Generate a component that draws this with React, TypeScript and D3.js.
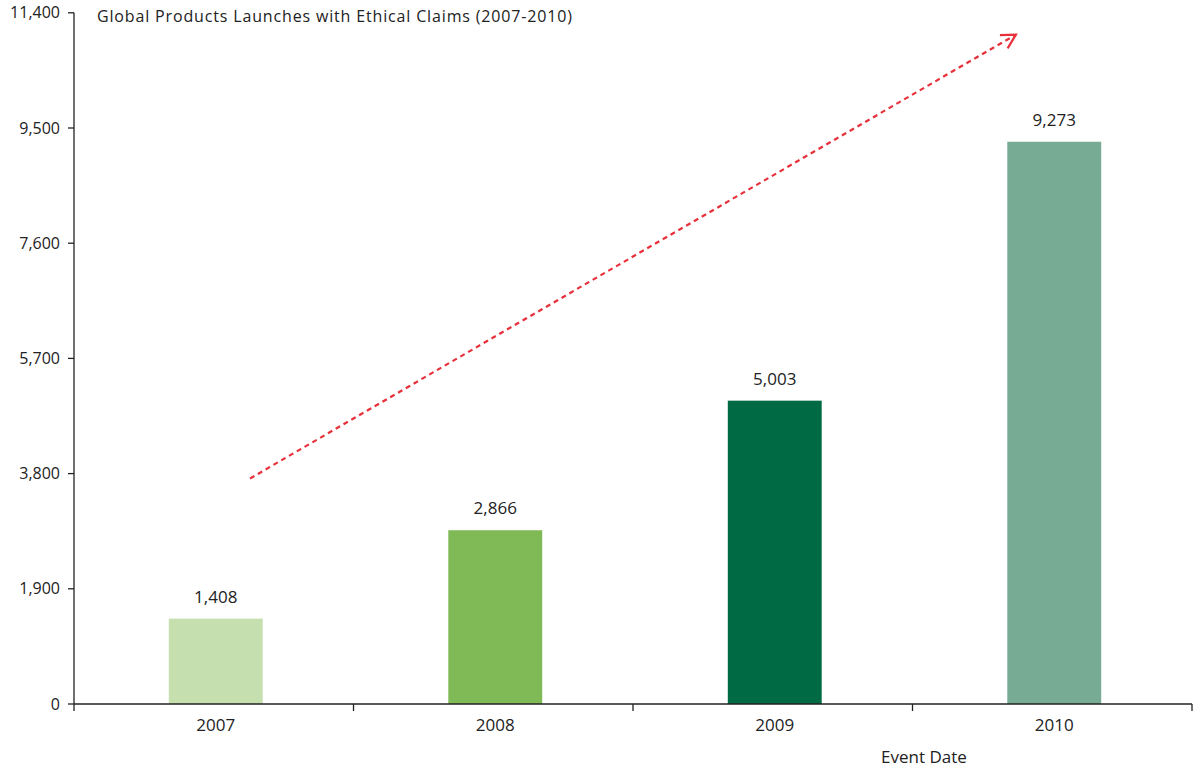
import React from "react";
import * as d3 from "d3";

const years = ["2007", "2008", "2009", "2010"];
const launches = [1408, 2866, 5003, 9273];
const barColors = ["#c5dfae", "#7fba56", "#006a45", "#77ab94"];
const yTicks = [0, 1900, 3800, 5700, 7600, 9500, 11400];
const title = "Global Products Launches with Ethical Claims (2007-2010)";
const xAxisTitle = "Event Date";
// trend arrow in data terms: [band position (0..4), value]
const arrowStart = [0.63, 3720];
const arrowEnd = [3.37, 11040];

const W = 1194, H = 767;
const left = 74, right = 1192, top = 12.8, bottom = 704;
const font = "'Open Sans', sans-serif";

export default function App() {
  const x = d3.scaleBand().domain(years).range([left + 2, right + 2]).paddingInner(0.664).paddingOuter(0.332);
  const xPos = d3.scaleLinear().domain([0, years.length]).range([left, right]);
  const y = d3.scaleLinear().domain([0, 11400]).range([bottom, top]);
  const fmt = d3.format(",");
  const bandW = (right - left) / years.length;
  const boundaries = d3.range(years.length + 1).map((i) => left + i * bandW);

  const x1 = xPos(arrowStart[0]), y1 = y(arrowStart[1]);
  const x2 = xPos(arrowEnd[0]), y2 = y(arrowEnd[1]);
  const ang = Math.atan2(y2 - y1, x2 - x1);
  const hl = 16;
  const a1 = ang + Math.PI - 0.5, a2 = ang + Math.PI + 0.5;

  return (
    <svg width={W} height={H} style={{ position: "absolute", left: 0, top: 0, background: "#fff" }} fontFamily={font}>
      <text x={97} y={22} fontSize={16} fill="#222" textLength={475} lengthAdjust="spacing">{title}</text>
      {/* y axis */}
      <line x1={left} x2={left} y1={top} y2={bottom} stroke="#222" strokeWidth={1.3} />
      {yTicks.map((t) => (
        <g key={t}>
          <line x1={left - 6} x2={left} y1={y(t)} y2={y(t)} stroke="#222" strokeWidth={1.3} />
          <text x={left - 14} y={y(t)} dy="0.35em" textAnchor="end" fontSize={16} fill="#222">{fmt(t)}</text>
        </g>
      ))}
      {/* bars */}
      {years.map((yr, i) => (
        <g key={yr}>
          <rect x={x(yr)} y={y(launches[i])} width={x.bandwidth()} height={bottom - y(launches[i])} fill={barColors[i]} />
          <text x={x(yr)! + x.bandwidth() / 2} y={y(launches[i]) - 16} textAnchor="middle" fontSize={17} fill="#222">{fmt(launches[i])}</text>
        </g>
      ))}
      {/* x axis */}
      <line x1={left} x2={right} y1={bottom} y2={bottom} stroke="#222" strokeWidth={1.3} />
      {boundaries.map((b, i) => (
        <line key={i} x1={b} x2={b} y1={bottom} y2={bottom + 7} stroke="#222" strokeWidth={1.3} />
      ))}
      {years.map((yr) => (
        <text key={yr} x={x(yr)! + x.bandwidth() / 2} y={731} textAnchor="middle" fontSize={17} fill="#222">{yr}</text>
      ))}
      <text x={924} y={763} textAnchor="middle" fontSize={17} fill="#222">{xAxisTitle}</text>
      {/* trend arrow */}
      <line x1={x1} y1={y1} x2={x2} y2={y2} stroke="#e8303a" strokeWidth={2.2} strokeDasharray="5,4" />
      <polyline
        points={`${x2 + hl * Math.cos(a1)},${y2 + hl * Math.sin(a1)} ${x2},${y2} ${x2 + hl * Math.cos(a2)},${y2 + hl * Math.sin(a2)}`}
        fill="none" stroke="#e8303a" strokeWidth={2.2}
      />
    </svg>
  );
}
